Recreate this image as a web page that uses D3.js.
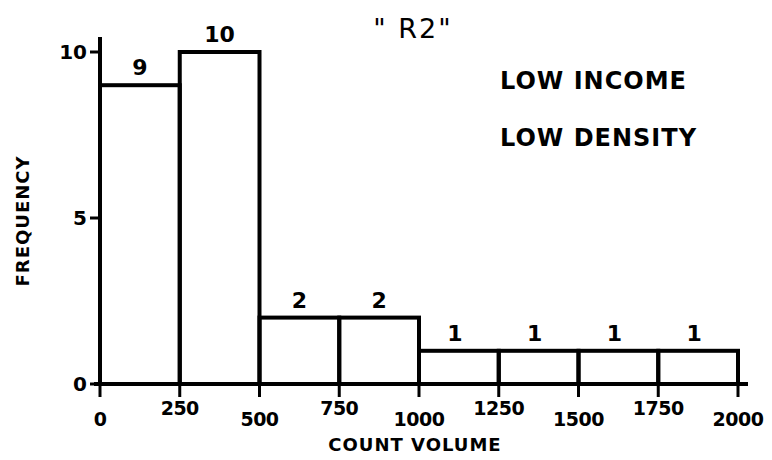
<!DOCTYPE html>
<html>
<head>
<meta charset="utf-8">
<script src="https://cdn.jsdelivr.net/npm/d3@7"></script>
<style>
  body { margin: 0; background: #fff; }
  text { font-family: "DejaVu Sans", sans-serif; fill: #000; }
</style>
</head>
<body>
<svg width="772" height="460"></svg>
<script>
const binStarts = [0, 250, 500, 750, 1000, 1250, 1500, 1750];
const binWidth = 250;
const counts = [9, 10, 2, 2, 1, 1, 1, 1];
const xTicks = [0, 250, 500, 750, 1000, 1250, 1500, 1750, 2000];
const yTicks = [0, 5, 10];

const svg = d3.select('svg');

const x = d3.scaleLinear().domain([0, 2000]).range([100, 738]);
const y = d3.scaleLinear().domain([0, 10]).range([384, 52]);

const bins = binStarts.map((s, i) => ({ x0: s, x1: s + binWidth, n: counts[i] }));

// bars
svg.append('g')
  .selectAll('rect')
  .data(bins)
  .join('rect')
  .attr('x', (d) => x(d.x0))
  .attr('y', (d) => y(d.n))
  .attr('width', (d) => x(d.x1) - x(d.x0))
  .attr('height', (d) => y(0) - y(d.n))
  .attr('fill', 'none')
  .attr('stroke', '#000')
  .attr('stroke-width', 4);

// bar labels
svg.append('g')
  .selectAll('text')
  .data(bins)
  .join('text')
  .attr('x', (d) => (x(d.x0) + x(d.x1)) / 2 + (d.n === 1 ? -4 : 0))
  .attr('y', (d) => y(d.n) - 10)
  .attr('text-anchor', 'middle')
  .attr('font-size', 22)
  .attr('font-weight', 'bold')
  .text((d) => d.n);

// x axis
const xAxis = svg.append('g');
xAxis.append('line')
  .attr('x1', x(0) - 6).attr('x2', x(2000) + 10)
  .attr('y1', y(0)).attr('y2', y(0))
  .attr('stroke', '#000').attr('stroke-width', 4);
xAxis.selectAll('.tick')
  .data(xTicks)
  .join('line')
  .attr('x1', (d) => x(d)).attr('x2', (d) => x(d))
  .attr('y1', y(0)).attr('y2', y(0) + 13)
  .attr('stroke', '#000').attr('stroke-width', 3);
xAxis.selectAll('text')
  .data(xTicks)
  .join('text')
  .attr('x', (d) => x(d))
  .attr('y', (d, i) => (i % 2 === 0 ? 426 : 415))
  .attr('text-anchor', 'middle')
  .attr('font-size', 19)
  .attr('font-weight', 'bold')
  .attr('letter-spacing', -0.5)
  .text((d) => d);

// y axis
const yAxis = svg.append('g');
yAxis.append('line')
  .attr('x1', x(0)).attr('x2', x(0))
  .attr('y1', y(0) + 2).attr('y2', 37)
  .attr('stroke', '#000').attr('stroke-width', 4);
yAxis.selectAll('.tick')
  .data(yTicks)
  .join('line')
  .attr('x1', x(0) - 10).attr('x2', x(0))
  .attr('y1', (d) => y(d)).attr('y2', (d) => y(d))
  .attr('stroke', '#000').attr('stroke-width', 3);
yAxis.selectAll('text')
  .data(yTicks)
  .join('text')
  .attr('x', x(0) - 13)
  .attr('y', (d) => y(d) + 7)
  .attr('text-anchor', 'end')
  .attr('font-size', 20)
  .attr('font-weight', 'bold')
  .text((d) => d);

// axis titles
svg.append('text')
  .attr('transform', 'translate(29,221) rotate(-90)')
  .attr('text-anchor', 'middle')
  .attr('font-size', 18)
  .attr('font-weight', 'bold')
  .attr('letter-spacing', 1)
  .text('FREQUENCY');

svg.append('text')
  .attr('x', 415).attr('y', 451)
  .attr('text-anchor', 'middle')
  .attr('font-size', 18)
  .attr('font-weight', 'bold')
  .attr('letter-spacing', 1)
  .text('COUNT  VOLUME');

// title and notes
svg.append('text')
  .attr('x', 413).attr('y', 38)
  .attr('text-anchor', 'middle')
  .attr('font-size', 27)
  .attr('font-weight', 500)
  .attr('letter-spacing', 2)
  .text('" R2"');

svg.append('text')
  .attr('x', 500).attr('y', 89)
  .attr('font-size', 24)
  .attr('font-weight', 'bold')
  .attr('letter-spacing', 1)
  .text('LOW INCOME');

svg.append('text')
  .attr('x', 500).attr('y', 146)
  .attr('font-size', 24)
  .attr('font-weight', 'bold')
  .attr('letter-spacing', 1)
  .text('LOW DENSITY');
</script>
</body>
</html>
